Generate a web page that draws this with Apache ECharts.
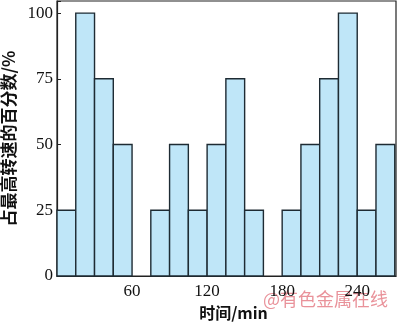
<!DOCTYPE html>
<html><head><meta charset="utf-8">
<script src="https://cdn.jsdelivr.net/npm/echarts@6/dist/echarts.min.js"></script>
<style>html,body{margin:0;padding:0;background:#fff}#c{width:400px;height:323px}</style>
</head><body><div id="c"></div>
<script>
const binStarts = [0,15,30,45,60,75,90,105,120,135,150,165,180,195,210,225,240,255];
const binWidth = 15;
const values = [25,100,75,50,0,25,50,25,50,75,25,0,25,50,75,100,25,50];
const xTicks = [60,120,180,240];
const yTicks = [0,25,50,75,100];

const data = binStarts.map((s,i)=>[s, s+binWidth, values[i]]);
const chart = echarts.init(document.getElementById('c'));
const serif = '"Liberation Serif","Times New Roman",serif';
const cjk = '"Noto Sans CJK SC",sans-serif';
chart.setOption({
  animation:false,
  grid:{left:57,right:4,top:1,bottom:47,containLabel:false,outerBoundsMode:'none',
    show:true,borderColor:'#222',borderWidth:1.2,backgroundColor:'#fff'},
  xAxis:{type:'value',min:0,max:271,interval:60,
    name:'时间/min',nameLocation:'middle',nameGap:29,
    nameTextStyle:{fontFamily:cjk,fontSize:16,fontWeight:'bold',color:'#111',padding:[0,0,0,14]},
    axisLine:{show:true,onZero:false,lineStyle:{color:'#222',width:1.2}},
    axisTick:{show:false},splitLine:{show:false},
    axisLabel:{fontFamily:serif,fontSize:17,color:'#111',margin:7,
      formatter:v=>xTicks.includes(v)?String(v):''}},
  yAxis:{type:'value',min:0,max:104.6,interval:25,
    name:'占最高转速的百分数/%',nameLocation:'middle',nameGap:31,
    nameTextStyle:{fontFamily:cjk,fontSize:17,fontWeight:'bold',color:'#111'},
    axisLine:{show:true,lineStyle:{color:'#222',width:1.2}},
    axisTick:{show:true,inside:true,length:4,lineStyle:{color:'#222'}},
    splitLine:{show:false},
    axisLabel:{fontFamily:serif,fontSize:17,color:'#111',margin:4,
      formatter:v=>yTicks.includes(v)?String(v):''}},
  series:[{type:'custom',data:data,
    renderItem:(params,api)=>{
      const p0 = api.coord([api.value(0),0]);
      const p1 = api.coord([api.value(1),api.value(2)]);
      if(api.value(2)<=0) return null;
      return {type:'rect',shape:{x:p0[0],y:p1[1],width:p1[0]-p0[0],height:p0[1]-p1[1]},
        style:{fill:'#bfe6f8',stroke:'#1e2b33',lineWidth:1.4}};
    },
    encode:{x:[0,1],y:2}}],
  graphic:[{type:'text',left:263,top:290,style:{text:'@有色金属在线',font:'18px "Noto Sans CJK SC"',fill:'rgba(225,110,120,0.75)'}}]
});
</script></body></html>
